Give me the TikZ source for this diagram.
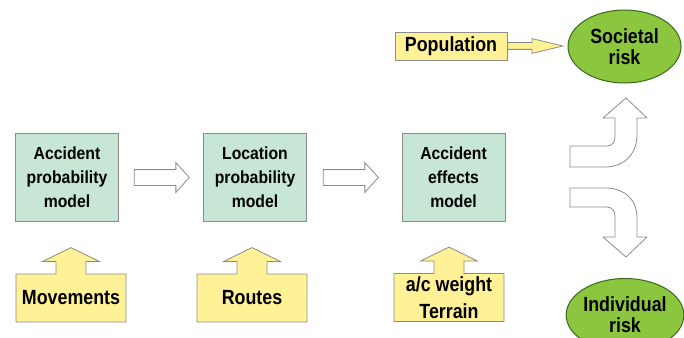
\documentclass[tikz,border=0pt]{standalone}
\usepackage{fontspec}
\setmainfont{Liberation Sans}
\newfontfamily\modelfont[FakeStretch=0.9]{Liberation Sans}
\newfontfamily\inputfont[FakeStretch=0.87]{Liberation Sans}
\usetikzlibrary{shapes.arrows,shapes.geometric,calc}

\definecolor{modelfill}{RGB}{200,230,214}
\definecolor{inputfill}{RGB}{255,242,150}
\definecolor{riskfill}{RGB}{140,198,63}
\definecolor{riskline}{RGB}{55,105,30}
\definecolor{edgegray}{RGB}{140,140,140}

\tikzset{
  model/.style={draw=edgegray, line width=0.8pt, fill=modelfill, minimum width=103pt, minimum height=88pt,
    inner sep=0pt, align=center, font=\modelfont\bfseries\fontsize{17.5}{24}\selectfont},
  input/.style={arrow box, draw=edgegray, line width=0.8pt, fill=inputfill, minimum width=110pt, minimum height=48pt,
    inner sep=0pt, align=center, arrow box arrows={north:26pt}, arrow box shaft width=30pt,
    arrow box head extend=13.5pt, arrow box tip angle=128,
    font=\inputfont\bfseries\fontsize{20.5}{27}\selectfont},
  popbox/.style={draw=edgegray, line width=0.8pt, fill=inputfill, minimum width=112pt, minimum height=28pt,
    inner sep=0pt, font=\inputfont\bfseries\fontsize{20.5}{24}\selectfont},
  risk/.style={ellipse, draw=riskline, line width=1pt, fill=riskfill, minimum width=113pt, minimum height=73pt,
    inner sep=0pt, align=center, font=\inputfont\bfseries\fontsize{20.5}{21}\selectfont},
  flowarrow/.style={single arrow, draw=edgegray, line width=0.8pt, fill=white, inner sep=0pt, text height=15pt,
    text depth=0pt, minimum height=55pt, single arrow head extend=7pt, single arrow tip angle=96, anchor=tail},
  feedarrow/.style={single arrow, draw=edgegray, line width=0.8pt, fill=inputfill, inner sep=0pt, text height=6pt,
    text depth=0pt, minimum height=55pt, single arrow head extend=4pt, single arrow tip angle=27, anchor=tail},
  bendarrow/.style={draw=edgegray, fill=white, line width=0.8pt, line join=round}
}

\begin{document}
\begin{tikzpicture}[x=1pt,y=-1pt]
    \useasboundingbox[fill=white] (0,0) rectangle (684,337);

    % model chain
    \node[model] (accmodel) at (67,177.5) {Accident\\probability\\model};
    \node[model] (locmodel) at (255,177.5) {Location\\probability\\model};
    \node[model] (effmodel) at (453.5,177.5) {Accident\\effects\\model};
    \node[flowarrow] (flow1) at ($(accmodel.east)+(15,0)$) {};
    \node[flowarrow] (flow2) at ($(locmodel.east)+(16,0)$) {};

    % inputs
    \node[input] (movements) at (71,298) {Movements};
    \node[input] (routes) at (252,298) {Routes};
    \node[input] (weight) at (449,297.5) {a/c weight\\Terrain};

    % risks
    \node[risk] (societal) at (624.5,46.5) {Societal\\risk};
    \node[risk] (individual) at (625,315) {Individual\\risk};
    \node[popbox] (population) at (451,46) {Population};
    \node[feedarrow] (feed) at (population.east) {};

    % bent arrows
    \draw[bendarrow] (570,146) -- (607,146) .. controls (612,146) and (615,142) .. (615,137)
        -- (615,118) -- (603,118) -- (626,98) -- (647,118) -- (637,118) -- (637,135)
        .. controls (637,153) and (625,167) .. (605,167) -- (570,167) -- cycle;
    \draw[bendarrow] (570,188) -- (605,188) .. controls (625,188) and (637,200) .. (637,218)
        -- (637,237) -- (647,237) -- (626,257) -- (603,237) -- (615,237) -- (615,216)
        .. controls (615,211) and (612,207) .. (607,207) -- (570,207) -- cycle;
\end{tikzpicture}
\end{document}
